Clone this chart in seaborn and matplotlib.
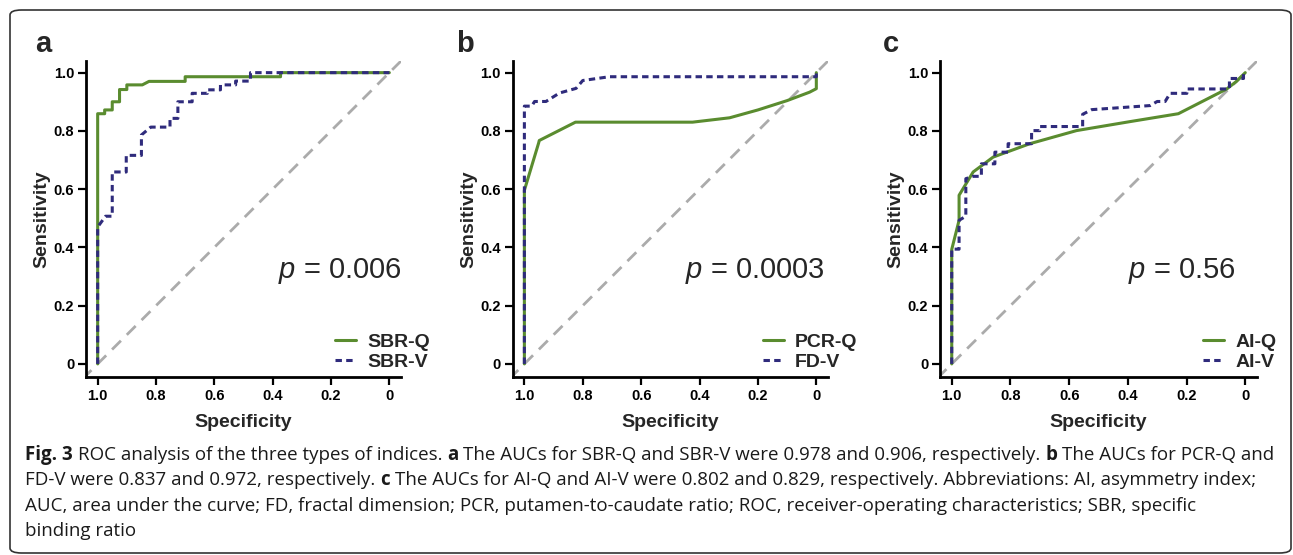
import matplotlib
matplotlib.use("Agg")
import matplotlib.pyplot as plt
import seaborn as sns
import pandas as pd
from matplotlib.patches import FancyBboxPatch

# ROC curves (specificity, sensitivity)
sbr_q_spec = [1.0, 1.0, 0.976, 0.976, 0.95, 0.95, 0.925, 0.925, 0.90, 0.90, 0.847, 0.824, 0.70, 0.70, 0.373, 0.373, 0.0]
sbr_q_sens = [0.0, 0.859, 0.859, 0.872, 0.872, 0.90, 0.90, 0.942, 0.942, 0.958, 0.958, 0.970, 0.970, 0.986, 0.986, 1.0, 1.0]
sbr_v_spec = [1.0, 1.0, 0.973, 0.95, 0.95, 0.902, 0.902, 0.85, 0.85, 0.818, 0.752, 0.752, 0.725, 0.725,
              0.676, 0.676, 0.624, 0.624, 0.579, 0.579, 0.527, 0.527, 0.476, 0.476, 0.0]
sbr_v_sens = [0.0, 0.47, 0.507, 0.507, 0.659, 0.659, 0.716, 0.716, 0.786, 0.813, 0.813, 0.843, 0.843, 0.90,
              0.90, 0.929, 0.929, 0.941, 0.941, 0.958, 0.958, 0.971, 0.971, 1.0, 1.0]

pcr_q_spec = [1.0, 1.0, 0.951, 0.949, 0.825, 0.424, 0.297, 0.20, 0.10, 0.023, 0.0, 0.0]
pcr_q_sens = [0.0, 0.596, 0.759, 0.767, 0.830, 0.830, 0.845, 0.872, 0.904, 0.933, 0.945, 1.0]
fd_v_spec = [1.0, 1.0, 0.975, 0.965, 0.926, 0.88, 0.823, 0.80, 0.709, 0.0, 0.0]
fd_v_sens = [0.0, 0.885, 0.885, 0.901, 0.901, 0.930, 0.946, 0.973, 0.986, 0.986, 1.0]

ai_q_spec = [1.0, 1.0, 0.975, 0.975, 0.927, 0.859, 0.734, 0.575, 0.392, 0.228, 0.063, 0.03, 0.0]
ai_q_sens = [0.0, 0.393, 0.493, 0.579, 0.659, 0.71, 0.756, 0.801, 0.832, 0.859, 0.944, 0.97, 1.0]
ai_v_spec = [1.0, 1.0, 0.975, 0.975, 0.952, 0.952, 0.927, 0.899, 0.899, 0.853, 0.853, 0.808, 0.808, 0.728,
             0.728, 0.70, 0.70, 0.554, 0.554, 0.523, 0.324, 0.30, 0.273, 0.256, 0.199, 0.199, 0.054, 0.054,
             0.006, 0.006]
ai_v_sens = [0.0, 0.394, 0.394, 0.493, 0.507, 0.636, 0.644, 0.644, 0.687, 0.687, 0.727, 0.727, 0.756, 0.756,
             0.801, 0.801, 0.815, 0.815, 0.857, 0.873, 0.887, 0.901, 0.901, 0.929, 0.929, 0.944, 0.944, 0.98,
             0.98, 1.0]

panel_letters = ["a", "b", "c"]
q_names = ["SBR-Q", "PCR-Q", "AI-Q"]
v_names = ["SBR-V", "FD-V", "AI-V"]
p_texts = ["0.006", "0.0003", "0.56"]
tick_vals = [1.0, 0.8, 0.6, 0.4, 0.2, 0.0]
tick_labels = ["1.0", "0.8", "0.6", "0.4", "0.2", "0"]

caption_lines = [
    [("Fig. 3", "bold"), ("ROC analysis of the three types of indices.", "normal"), ("a", "bold"),
     ("The AUCs for SBR-Q and SBR-V were 0.978 and 0.906, respectively.", "normal"), ("b", "bold"),
     ("The AUCs for PCR-Q and", "normal")],
    [("FD-V were 0.837 and 0.972, respectively.", "normal"), ("c", "bold"),
     ("The AUCs for AI-Q and AI-V were 0.802 and 0.829, respectively. Abbreviations: AI, asymmetry index;", "normal")],
    [("AUC, area under the curve; FD, fractal dimension; PCR, putamen-to-caudate ratio; ROC, receiver-operating characteristics; SBR, specific", "normal")],
    [("binding ratio", "normal")],
]

GREEN = "#5a8c2f"
NAVY = "#2f2b7c"
GRAY = "#ababab"

sns.set_style("ticks")
plt.rcParams["font.family"] = ["Liberation Sans", "DejaVu Sans"]
plt.rcParams["mathtext.fontset"] = "custom"
plt.rcParams["mathtext.it"] = "Liberation Sans:italic"
plt.rcParams["mathtext.rm"] = "Liberation Sans"

W, H = 1293, 555
fig = plt.figure(figsize=(W / 100, H / 100), dpi=100)

curves = [
    (sbr_q_spec, sbr_q_sens, sbr_v_spec, sbr_v_sens),
    (pcr_q_spec, pcr_q_sens, fd_v_spec, fd_v_sens),
    (ai_q_spec, ai_q_sens, ai_v_spec, ai_v_sens),
]
ax_left = [86, 512.7, 940]
ax_width = [315, 315.3, 317]
letter_x = [35, 456, 883]
p_x = [0.38, 0.451, 0.40]
leg_x = [0.79, 0.794, 0.83]

for i in range(3):
    qs, qv, vs, vv = curves[i]
    df = pd.concat([
        pd.DataFrame({"spec": qs, "sens": qv, "curve": q_names[i]}),
        pd.DataFrame({"spec": vs, "sens": vv, "curve": v_names[i]}),
    ], ignore_index=True)

    ax = fig.add_axes([ax_left[i] / W, 1 - 377 / H, ax_width[i] / W, 316 / H])
    ax.axline((1, 0), (0, 1), color=GRAY, lw=2.0, dashes=(4.5, 3), zorder=1)
    sns.lineplot(data=df, x="spec", y="sens", hue="curve", style="curve",
                 palette={q_names[i]: GREEN, v_names[i]: NAVY},
                 dashes={q_names[i]: "", v_names[i]: (2.1, 1.4)},
                 estimator=None, sort=False, lw=2.2, ax=ax, zorder=3)

    leg = ax.get_legend()
    handles = leg.legend_handles
    labels = [t.get_text() for t in leg.get_texts()]
    ax.legend(handles, labels, loc="lower left", bbox_to_anchor=(leg_x[i], 0.02),
              frameon=False, borderpad=0, borderaxespad=0, handlelength=1.1,
              handletextpad=0.55, labelspacing=0.1,
              prop={"family": "Liberation Sans", "weight": "bold", "size": 14})

    ax.set_xlim(1.04, -0.04)
    ax.set_ylim(-0.045, 1.04)
    ax.set_xticks(tick_vals)
    ax.set_xticklabels(tick_labels)
    ax.set_yticks(tick_vals[::-1])
    ax.set_yticklabels(tick_labels[::-1])
    ax.tick_params(direction="out", length=6, width=1.6, color="black", pad=2.5,
                   labelsize=10.5, labelcolor="black")
    for lab in ax.get_xticklabels() + ax.get_yticklabels():
        lab.set_fontweight("bold")
    for s in ["left", "bottom"]:
        ax.spines[s].set_linewidth(2.0)
        ax.spines[s].set_color("black")
    sns.despine(ax=ax)

    ax.set_xlabel("Specificity", fontsize=14, fontweight="bold", labelpad=8)
    ax.set_ylabel("Sensitivity", fontsize=14, fontweight="bold", labelpad=2)

    ax.text(p_x[i], 0.32, r"$p$ = " + p_texts[i], fontsize=21, ha="left", va="center")
    fig.text(letter_x[i] / W, 1 - 52 / H, panel_letters[i], fontsize=21,
             fontweight="bold", ha="left", va="baseline")

# caption below the panels
renderer = fig.canvas.get_renderer()
cap_size = 13.5
probe1 = fig.text(0, 0, "x x", fontsize=cap_size, family="Open Sans")
probe2 = fig.text(0, 0, "xx", fontsize=cap_size, family="Open Sans")
space_w = probe1.get_window_extent(renderer).width - probe2.get_window_extent(renderer).width
probe1.remove()
probe2.remove()

for li, runs in enumerate(caption_lines):
    xpix = 25
    ypix = 460 + li * 25.3
    for txt, wt in runs:
        t = fig.text(xpix / W, 1 - ypix / H, txt, fontsize=cap_size, fontweight=wt,
                     family="Open Sans", ha="left", va="baseline", color="#1a1a1a")
        xpix += t.get_window_extent(renderer).width + space_w

# rounded frame around the whole figure
frame = FancyBboxPatch((10 / W, 2 / H), 1281 / W, 543 / H,
                       boxstyle="round,pad=0,rounding_size=0.009",
                       transform=fig.transFigure, fill=False, ec="#333333", lw=1.2)
fig.patches.append(frame)

fig.savefig("out.png", dpi=100)
